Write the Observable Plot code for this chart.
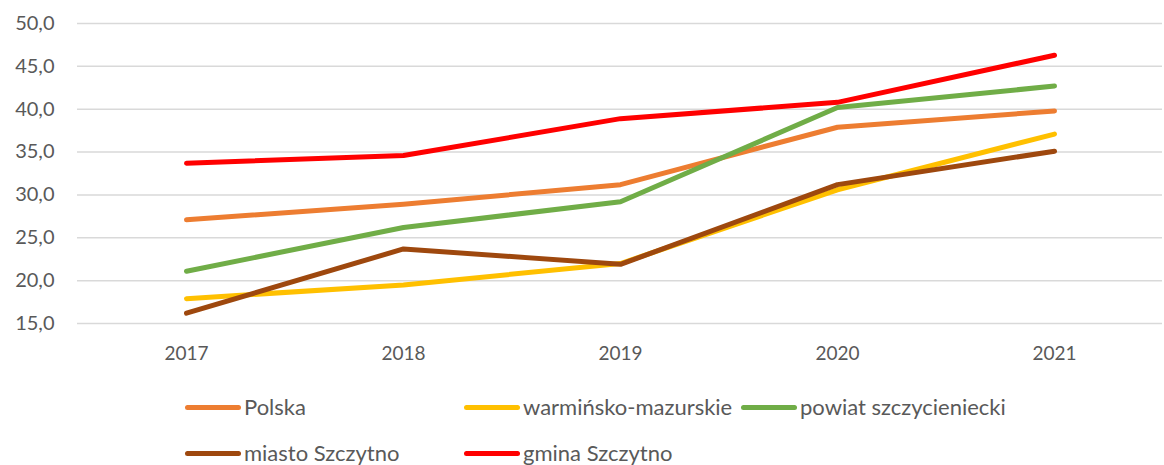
<!DOCTYPE html>
<html>
<head>
<meta charset="utf-8">
<script src="https://cdn.jsdelivr.net/npm/d3@7"></script>
<script src="https://cdn.jsdelivr.net/npm/@observablehq/plot@0.6"></script>
<style>
  html, body { margin: 0; padding: 0; background: #fff; }
  body { width: 1164px; height: 465px; overflow: hidden; font-family: Lato, "Open Sans", sans-serif; }
  #legend { position: relative; height: 90px; }
  .item { position: absolute; display: flex; align-items: center; font-size: 22px; color: #595959; line-height: 24px; }
  .sw { width: 56px; height: 5px; border-radius: 3px; margin-right: 3px; }
</style>
</head>
<body>
<div id="chart"></div>
<div id="legend"></div>
<script>
const years = [2017, 2018, 2019, 2020, 2021];
const seriesNames = ["Polska", "warmińsko-mazurskie", "powiat szczycieniecki", "miasto Szczytno", "gmina Szczytno"];
const colors = ["#ED7D31", "#FFC000", "#70AD47", "#9E480E", "#FF0000"];
const polska = [27.1, 28.9, 31.2, 37.9, 39.8];
const warminsko = [17.9, 19.5, 22.0, 30.6, 37.1];
const powiat = [21.1, 26.2, 29.2, 40.2, 42.7];
const miasto = [16.2, 23.7, 21.9, 31.2, 35.1];
const gmina = [33.7, 34.6, 38.9, 40.8, 46.3];
const yTicks = [15, 20, 25, 30, 35, 40, 45, 50];

const allValues = [polska, warminsko, powiat, miasto, gmina];
const data = [];
seriesNames.forEach((name, i) => {
  years.forEach((yr, j) => data.push({series: name, year: String(yr), value: allValues[i][j]}));
});

const plot = Plot.plot({
  width: 1164,
  height: 375,
  marginTop: 23,
  marginBottom: 52,
  marginLeft: 77,
  marginRight: 2,
  style: { fontFamily: "Lato, 'Open Sans', sans-serif", color: "#595959", background: "#fff" },
  x: { type: "point", domain: years.map(String), padding: 0.5, label: null },
  y: { domain: [15, 50], label: null },
  color: { domain: seriesNames, range: colors },
  marks: [
    Plot.gridY(yTicks, { stroke: "#d9d9d9", strokeOpacity: 1, strokeWidth: 1.5 }),
    Plot.axisY(yTicks, { tickSize: 0, tickPadding: 23, fontSize: 20, fill: "#595959", tickFormat: d => d.toFixed(1).replace(".", ","), label: null }),
    Plot.axisX({ tickSize: 0, tickPadding: 23, fontSize: 19, fill: "#595959", label: null }),
    Plot.line(data, { x: "year", y: "value", z: "series", stroke: "series", strokeWidth: 5, strokeLinecap: "round", strokeLinejoin: "round" })
  ]
});
document.getElementById("chart").appendChild(plot);

const legend = document.getElementById("legend");
const positions = [[185, 32], [464, 32], [741, 32], [185, 78], [464, 78]];
seriesNames.forEach((name, i) => {
  const item = document.createElement("div");
  item.className = "item";
  item.style.left = positions[i][0] + "px";
  item.style.top = (positions[i][1] - 12) + "px";
  const sw = document.createElement("span");
  sw.className = "sw";
  sw.style.background = colors[i];
  const t = document.createElement("span");
  t.textContent = name;
  item.appendChild(sw);
  item.appendChild(t);
  legend.appendChild(item);
});
</script>
</body>
</html>
